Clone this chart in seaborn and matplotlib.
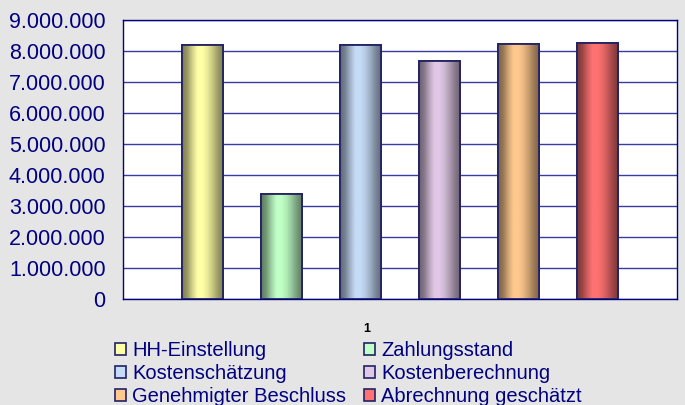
import numpy as np
import pandas as pd
import matplotlib
matplotlib.use('Agg')
import matplotlib.pyplot as plt
import matplotlib.ticker as mticker
import matplotlib.transforms as mtrans
from matplotlib.patches import Rectangle
from matplotlib.colors import LinearSegmentedColormap, to_rgb
import seaborn as sns

# Daten
series = ['HH-Einstellung', 'Zahlungsstand', 'Kostenschätzung',
          'Kostenberechnung', 'Genehmigter Beschluss', 'Abrechnung geschätzt']
values = [8200000, 3410000, 8200000, 7690000, 8220000, 8250000]
category = ['1'] * len(series)
colors = ['#FFFFA6', '#C0FFC6', '#C6DBF7', '#E0C8E6', '#FFC88E', '#FF7272']
yticks = np.arange(0, 9000001, 1000000)

df = pd.DataFrame({'Kategorie': category, 'Reihe': series, 'Wert': values})

navy = '#000080'
sns.set_style('white')
plt.rcParams['font.family'] = ['Liberation Sans', 'DejaVu Sans']

fig = plt.figure(figsize=(6.85, 4.05), dpi=100, facecolor='#E5E5E5')
ax = fig.add_axes([0.1796, 0.2605, 0.8084, 0.6901])
ax.set_facecolor('white')

sns.barplot(data=df, x='Kategorie', y='Wert', hue='Reihe', hue_order=series,
            palette=colors, width=0.856, gap=0.49, legend=False, ax=ax,
            edgecolor='#222266', linewidth=1.3, zorder=3)

# Zylinder-Schattierung auf die Balken legen
profile = np.array([0.48, 0.6, 0.82, 1.0, 1.0, 0.92, 0.78, 0.62, 0.5])
for patch, c in zip(ax.patches, colors):
    base = np.array(to_rgb(c))
    cols = [tuple(base * f) for f in profile]
    cmap = LinearSegmentedColormap.from_list('cyl', cols)
    x0, y0 = patch.get_x(), patch.get_y()
    w, h = patch.get_width(), patch.get_height()
    im = ax.imshow(np.linspace(0, 1, 200).reshape(1, -1), cmap=cmap, aspect='auto',
                   extent=[x0, x0 + w, y0, y0 + h], zorder=3.5, interpolation='bicubic')
    im.set_clip_path(patch)
    border = Rectangle((x0, y0), w, h, fill=False, edgecolor='#222266', linewidth=1.3, zorder=4)
    ax.add_patch(border)

ax.set_xlim(-0.5, 0.5)
ax.set_ylim(0, 9000000)
ax.set_yticks(yticks)
ax.yaxis.set_major_formatter(mticker.FuncFormatter(lambda v, p: f'{int(v):,}'.replace(',', '.')))
ax.yaxis.grid(True, color='#3a3aa0', linewidth=1.0, zorder=0)
ax.set_axisbelow(True)

ax.set_xlabel('')
ax.set_ylabel('')
ax.set_xticks([0])
ax.set_xticklabels(['1'])
ax.set_xticks([-0.5, 0.5], minor=True)
ax.tick_params(axis='x', which='major', length=0, pad=17, labelsize=9, labelcolor='black')
ax.tick_params(axis='x', which='minor', length=4, width=1, color=navy, direction='out')
ax.tick_params(axis='y', length=4.5, width=1, color=navy, direction='out', pad=8,
               labelsize=15.5, labelcolor=navy)
for s in ax.spines.values():
    s.set_visible(True)
    s.set_color(navy)
    s.set_linewidth(1.0)

shift = mtrans.ScaledTranslation(-0.33, 0, fig.dpi_scale_trans)
for lbl in ax.get_xticklabels():
    lbl.set_fontweight('bold')
    lbl.set_transform(lbl.get_transform() + shift)

# Legende (zeilenweise wie im Original)
handles = [Rectangle((0, 0), 1, 1, facecolor=c, edgecolor='#222266', linewidth=1.2) for c in colors]
order = [0, 2, 4, 1, 3, 5]
fig.legend([handles[i] for i in order], [series[i] for i in order], ncol=2,
           loc='upper left', bbox_to_anchor=(0.168, 0.158), frameon=False,
           fontsize=14.5, labelcolor=navy, handlelength=0.55, handleheight=0.55,
           handletextpad=0.3, columnspacing=0.9, labelspacing=0.2, borderpad=0,
           borderaxespad=0)

fig.savefig('out.png', dpi=100, facecolor=fig.get_facecolor())
